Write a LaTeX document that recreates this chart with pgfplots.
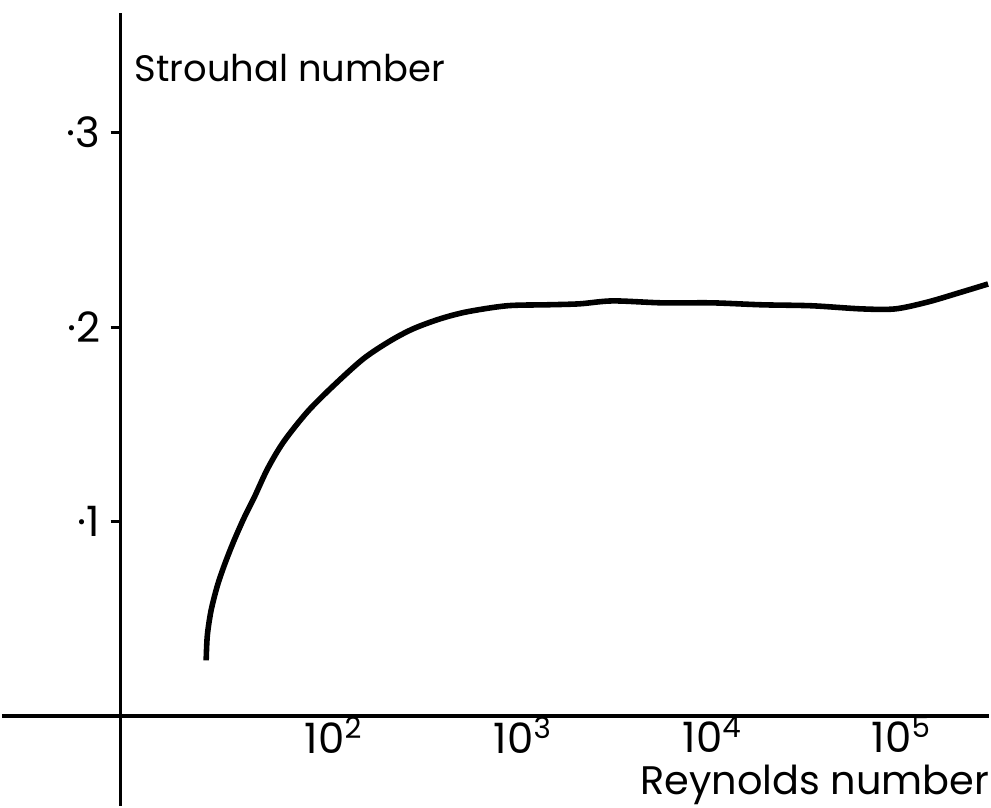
\documentclass[border=0pt]{standalone}
\usepackage{fontspec}
\setmainfont{Poppins}
\usepackage{pgfplots}
\pgfplotsset{compat=1.18}
\begin{document}
\begin{tikzpicture}
\begin{axis}[
  scale only axis, width=436pt, height=353pt,
  xmode=log, xmin=7.476, xmax=290400,
  ymin=0, ymax=0.3615,
  axis lines=left, axis line style={-, line width=2pt, black},
  clip=false,
  xtick={100,1000,10000,100000},
  xticklabels={10\textsuperscript{2},10\textsuperscript{3},10\textsuperscript{4},10\textsuperscript{5}},
  minor xtick={},
  ytick={0.1,0.2,0.3},
  yticklabels={\textperiodcentered1,\textperiodcentered2,\textperiodcentered3},
  x tick style={draw=none},
  y tick style={line width=1.5pt, black},
  major tick length=5pt, tick align=outside,
  ticklabel style={font=\fontsize{21}{24}\selectfont},
  xticklabel style={inner sep=0pt, yshift=5pt},
  yticklabel style={inner sep=5pt},
]
\addplot[line width=2.8pt, black, smooth] coordinates {
(21.2,0.0287) (21.5,0.0415) (22.5,0.0543) (24.3,0.0671) (26.6,0.0783)
(29.7,0.0901) (33.6,0.1019) (38.1,0.1126) (44.9,0.1275) (54.6,0.1413)
(73.0,0.1567) (100,0.1700) (143.8,0.1838) (199.5,0.1930) (263.6,0.1992)
(365.6,0.2043) (507,0.2079) (824,0.211)
(1337,0.2115) (1995,0.212) (2979,0.2135) (5458,0.2125) (10000,0.2125)
(18323,0.2115) (33574,0.211) (61518,0.2094) (92897,0.2094) (138676,0.213)
(207014,0.218) (287078,0.2222)
};
\draw[line width=2pt] (axis cs:7.476,0) -- (axis cs:7.476,-0.0461);
\draw[line width=2pt] (axis cs:1.768,0) -- (axis cs:7.476,0);
\path (axis cs:7.476,0.3682);
\node[anchor=west, font=\fontsize{18.5}{22}\selectfont, inner sep=0pt] at (axis cs:8.86,0.3333) {Strouhal number};
\node[font=\fontsize{20}{24}\selectfont, inner sep=0pt] at (axis cs:34830,-0.0355) {Reynolds number};
\end{axis}
\end{tikzpicture}
\end{document}
